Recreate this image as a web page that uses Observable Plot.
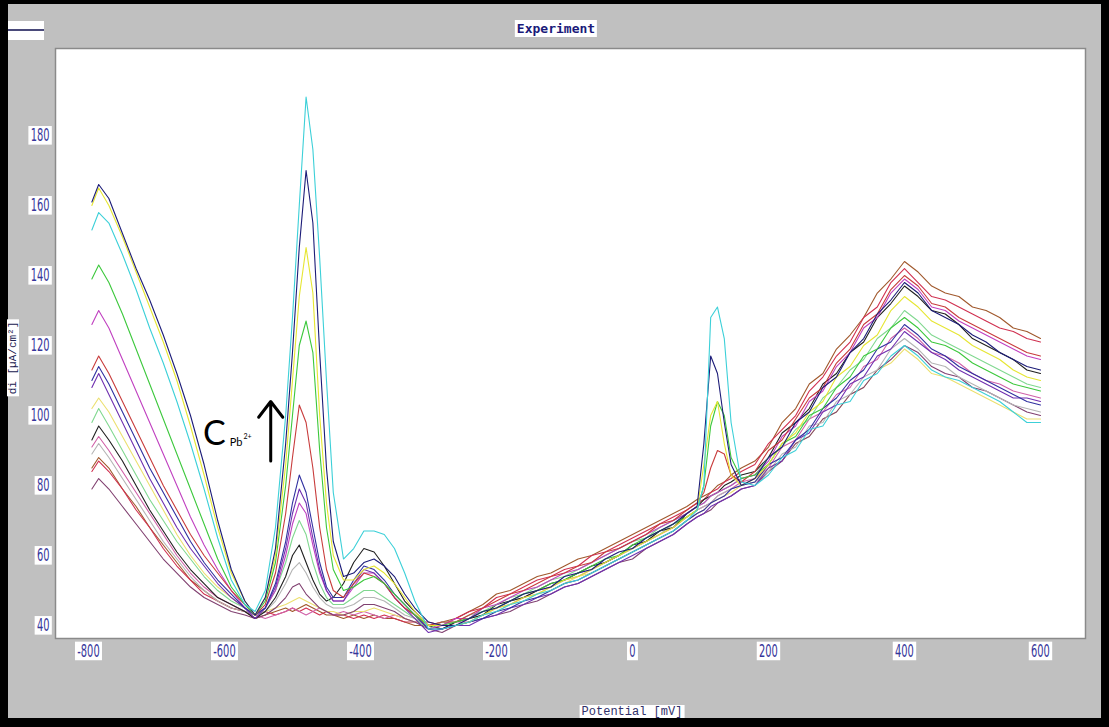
<!DOCTYPE html>
<html>
<head>
<meta charset="utf-8">
<script src="https://cdn.jsdelivr.net/npm/d3@7"></script>
<script src="https://cdn.jsdelivr.net/npm/@observablehq/plot@0.6"></script>
<style>
html,body{margin:0;padding:0;background:#000;}
#page{position:relative;width:1109px;height:727px;background:#000;overflow:hidden;}
#panel{position:absolute;left:8px;top:4px;width:1093px;height:714px;background:#c0c0c0;}
#chart{position:absolute;left:0;top:0;}
.lbl{position:absolute;background:#fff;white-space:nowrap;}
#legendbox{left:8px;top:21px;width:36px;height:19px;}
#legendline{position:absolute;left:0;top:8px;width:36px;height:2px;background:#4a4a7a;}
#title{left:556px;top:20px;transform:translateX(-50%);font:bold 13px "DejaVu Sans Mono",monospace;color:#1a1a7a;padding:1px 2px;}
#ylabel{left:13px;top:358px;transform:translate(-50%,-50%) rotate(-90deg);font:11px "Liberation Mono","DejaVu Sans Mono",monospace;color:#202050;padding:0 2px;}
#xlabel{left:632px;top:705px;transform:translateX(-50%);font:12px "Liberation Mono","DejaVu Sans Mono",monospace;color:#30306a;padding:0 2px;}
#bottomband{position:absolute;left:0;top:718px;width:1109px;height:9px;background:#000;}
#rightband{position:absolute;left:1101px;top:0;width:8px;height:727px;background:#000;}
</style>
</head>
<body>
<div id="page">
  <div id="panel"></div>
  <div id="chart"></div>
  <div class="lbl" id="legendbox"><div id="legendline"></div></div>
  <div class="lbl" id="title">Experiment</div>
  <div class="lbl" id="ylabel">di [µA/cm²]</div>
  <div class="lbl" id="xlabel">Potential [mV]</div>
  <div id="bottomband"></div>
  <div id="rightband"></div>
</div>
<script>
// ---- data ----
const potentials = [-795,-785,-770,-750,-730,-710,-690,-670,-650,-630,-610,-590,-570,
  -555,-540,-525,-510,-500,-490,-480,-470,-460,-450,-440,
  -425,-410,-395,-380,-365,-350,-335,-320,
  -300,-280,-260,-240,-220,-200,-180,-160,-140,-120,-100,-80,-60,-40,-20,0,20,40,60,80,
  95,105,115,125,135,145,160,
  180,200,220,240,260,280,300,320,340,360,380,400,420,440,460,480,500,520,540,560,580,600];

const xTicks = [-800,-600,-400,-200,0,200,400,600];
const yTicks = [40,60,80,100,120,140,160,180];

const brown = [85,88,85,79,74,68,63,58,53,50,47,45,44,
  42,43,44,45,44,45,46,45,44,43,43,
  42,43,42,43,42,42,41,40,
  40,41,42,44,46,49,50,52,54,55,57,59,60,62,64,66,68,70,72,74,
  76,77,78,80,81,83,85,
  87,91,98,102,109,112,119,123,128,135,139,144,141,137,135,134,131,130,128,125,124,122];
const red2 = [84,87,84,79,73,68,62,57,53,49,47,45,44,
  43,44,43,44,45,44,45,44,43,44,43,
  43,42,43,42,43,42,41,41,
  41,40,42,44,45,48,49,51,53,54,56,57,60,61,63,65,67,69,71,73,
  75,76,78,79,81,82,84,
  86,92,96,100,107,111,117,121,128,131,138,142,138,134,133,131,129,127,125,124,122,121];
const pink = [91,94,90,84,78,72,66,60,55,51,48,46,44,
  43,42,43,44,45,44,43,44,45,44,43,
  44,43,44,43,42,43,42,41,
  40,39,41,41,43,45,46,48,50,51,53,54,56,58,60,62,64,66,68,71,
  73,74,75,77,78,79,81,
  82,85,91,93,99,101,106,108,114,116,122,125,122,118,117,115,112,110,109,107,106,105];
const yellow2 = [102,105,101,94,87,80,73,66,60,55,51,48,45,
  43,44,45,46,47,48,47,46,45,44,44,
  43,44,44,45,44,43,42,41,
  40,39,40,41,43,44,46,47,49,50,52,54,55,57,59,61,63,65,67,70,
  72,73,75,76,77,78,80,
  81,85,87,92,94,99,101,106,108,113,115,119,116,112,111,109,107,105,103,101,99,99];
const darkPurple = [79,82,79,74,69,64,59,55,51,48,46,44,43,
  42,43,45,48,51,52,49,47,45,44,43,
  43,44,46,46,45,44,42,41,
  39,38,40,41,42,43,44,46,47,49,51,52,54,56,58,59,62,64,66,69,
  71,72,73,75,76,77,79,
  80,84,87,92,94,99,101,106,108,113,116,120,118,114,112,111,108,107,105,103,101,100];
const gray = [89,92,88,82,76,70,64,59,54,50,47,45,44,
  43,44,47,52,56,58,55,51,48,46,45,
  45,46,48,48,47,45,43,42,
  40,41,40,42,43,45,47,48,49,51,53,55,56,58,60,62,64,66,69,71,
  73,74,75,77,78,79,80,
  81,84,89,91,97,98,104,106,111,113,119,122,119,115,114,111,109,107,105,103,102,101];
const black = [93,97,93,87,80,73,67,61,56,52,48,46,44,
  42,44,48,54,60,63,58,53,49,47,48,
  52,58,62,61,57,52,47,44,
  40,39,41,42,43,46,47,48,50,52,53,55,57,58,60,63,64,67,68,72,
  74,76,77,78,80,81,83,
  84,88,95,98,102,109,112,118,121,128,132,137,134,130,129,126,122,120,118,116,113,112];
const green2 = [98,102,97,90,83,76,70,64,59,54,50,47,45,
  43,45,50,58,65,70,66,58,52,48,46,
  46,48,50,50,48,46,44,42,
  39,41,41,43,44,46,48,49,51,53,54,56,58,60,62,64,65,68,70,72,
  74,75,77,78,79,80,82,
  83,88,91,96,99,105,108,113,116,122,125,130,127,123,121,119,117,115,113,111,109,108];
const magenta = [126,130,125,116,107,98,89,80,71,63,56,50,45,
  43,45,50,60,69,75,72,63,55,50,47,
  47,51,55,55,52,48,45,43,
  39,40,42,42,45,46,48,50,51,53,55,56,58,60,62,64,66,68,70,72,
  74,75,77,78,79,80,82,
  83,87,94,97,104,107,114,118,125,128,135,139,136,131,130,127,125,123,121,119,117,116];
const violet = [108,112,106,98,90,82,75,68,62,57,52,48,45,
  42,45,51,62,72,79,75,65,56,50,47,
  47,52,56,55,52,48,45,42,
  38,39,40,40,42,43,45,46,48,49,51,52,54,56,58,60,62,64,66,69,
  71,72,74,75,76,77,79,
  80,85,87,93,95,101,103,109,111,117,119,124,121,118,116,113,111,109,107,105,105,104];
const navy2 = [110,114,109,101,93,85,78,71,64,58,53,49,45,
  43,45,52,64,75,83,78,68,58,51,48,
  48,53,57,56,53,49,46,43,
  39,39,40,41,42,44,45,47,48,50,52,53,55,57,59,61,63,65,67,70,
  72,73,75,76,77,79,80,
  81,86,88,93,96,102,105,110,113,119,121,126,123,119,117,114,112,110,108,106,104,103];
const red = [113,117,112,104,96,88,80,73,66,60,55,50,46,
  43,46,55,72,88,103,98,85,68,56,50,
  48,52,55,54,52,48,45,43,
  40,41,41,43,45,47,49,50,52,54,55,57,58,61,62,64,66,69,70,73,
  75,78,85,90,89,83,81,
  84,90,93,99,105,108,115,119,126,129,136,140,137,132,131,128,126,124,122,120,118,117];
const green = [139,143,138,129,119,109,99,89,79,69,59,51,46,
  43,47,58,80,100,120,127,118,90,68,56,
  50,51,53,54,52,49,46,43,
  40,40,41,42,44,45,47,49,50,52,53,55,57,59,60,63,65,67,69,71,
  73,80,97,104,100,88,82,
  83,86,92,94,100,102,108,111,117,119,125,128,125,121,120,118,115,113,111,109,108,107];
const yellow = [160,165,160,151,141,131,121,110,97,83,68,55,47,
  43,48,60,86,110,134,148,135,100,75,60,
  53,53,56,57,55,52,48,44,
  40,40,40,41,43,45,46,48,49,51,53,54,56,58,60,62,64,66,68,71,
  73,86,100,104,92,83,80,
  82,86,92,95,101,104,111,114,120,123,130,134,131,127,125,123,120,118,116,113,111,110];
const navy = [161,166,162,152,142,133,123,112,100,86,70,56,47,
  43,48,62,92,118,148,170,155,118,85,64,
  54,55,58,59,57,54,49,45,
  41,40,40,42,44,45,47,49,50,51,54,55,56,59,61,62,65,67,69,72,
  74,92,117,112,98,86,80,
  82,88,91,98,101,108,111,118,122,129,133,138,135,130,128,126,123,121,118,116,114,113];
const cyan = [153,158,155,146,136,125,115,104,92,79,65,53,46,
  44,50,68,100,128,160,191,176,145,110,78,
  59,62,67,67,66,62,55,47,
  39,39,40,41,43,44,46,47,49,50,52,53,55,57,59,61,63,65,67,70,
  73,80,128,131,122,98,81,
  80,83,88,90,96,97,103,104,110,112,117,120,117,113,111,110,108,106,104,101,98,98];

const seriesNames = ["brown","red2","pink","yellow2","darkPurple","gray","black","green2",
  "magenta","violet","navy2","red","green","yellow","navy","cyan"];
const seriesValues = [brown,red2,pink,yellow2,darkPurple,gray,black,green2,
  magenta,violet,navy2,red,green,yellow,navy,cyan];
const seriesColors = ["#a0582c","#d03050","#d060a8","#ece070","#804070","#b4b4b4","#202020","#80d890",
  "#c040c0","#7030b0","#3030a0","#c83c3c","#3cc83c","#e6e632","#1c1c78","#3cd0d8"];

// annotation "C Pb2+" with upward arrow
const noteArrow = [{x1: -532, y1: 87, x2: -532, y2: 104}];
const noteText = [
  {x: -615, y: 94.6, text: "C", size: 34, weight: "normal"},
  {x: -583, y: 92.3, text: "Pb", size: 11, weight: "bold"},
  {x: -566, y: 93.8, text: "2+", size: 7, weight: "normal"}
];

// ---- build ----
const rows = seriesValues.flatMap((vals, i) =>
  vals.map((v, j) => ({x: potentials[j], y: v, s: seriesNames[i]})));

const tickFont = '"DejaVu Sans", sans-serif';

const chart = Plot.plot({
  width: 1109,
  height: 727,
  marginLeft: 55,
  marginRight: 24,
  marginTop: 48,
  marginBottom: 89,
  style: {background: "transparent", overflow: "visible"},
  x: {domain: [-848.5, 666.2], axis: null},
  y: {domain: [36.29, 204.86], axis: null},
  color: {domain: seriesNames, range: seriesColors},
  marks: [
    Plot.frame({fill: "white"}),
    Plot.frame({stroke: "#8a8a8a", strokeWidth: 1.5}),
    Plot.line(rows, {x: "x", y: "y", z: "s", stroke: "s", strokeWidth: 1.1}),
    Plot.axisX(xTicks, {anchor: "bottom", tickSize: 0, tickPadding: 6, label: null,
      tickFormat: (d) => String(d), fontSize: 17, fontFamily: tickFont, color: "#35359a"}),
    Plot.axisY(yTicks, {anchor: "left", tickSize: 0, tickPadding: 6, label: null,
      tickFormat: (d) => String(d), fontSize: 17, fontFamily: tickFont, color: "#35359a"}),
    Plot.arrow(noteArrow, {x1: "x1", y1: "y1", x2: "x2", y2: "y2",
      stroke: "black", strokeWidth: 3, headLength: 18, headAngle: 75}),
    Plot.text(noteText, {x: "x", y: "y", text: "text", fontSize: (d) => d.size,
      fontWeight: (d) => d.weight,
      fontFamily: "Lato, 'Open Sans', sans-serif", fill: "black"})
  ]
});
document.getElementById("chart").appendChild(chart);

// condensed tick labels with white boxes behind
const NS = "http://www.w3.org/2000/svg";
chart.querySelectorAll('g[aria-label="x-axis tick label"] text, g[aria-label="y-axis tick label"] text')
  .forEach((t) => {
    const tr = (t.getAttribute("transform") || "") + " scale(0.58,1)";
    t.setAttribute("transform", tr);
    const b = t.getBBox();
    const r = document.createElementNS(NS, "rect");
    r.setAttribute("x", b.x - 4);
    r.setAttribute("y", b.y + 1);
    r.setAttribute("width", b.width + 8);
    r.setAttribute("height", b.height - 1);
    r.setAttribute("fill", "white");
    r.setAttribute("stroke", "none");
    r.setAttribute("transform", tr);
    t.parentNode.insertBefore(r, t);
  });
</script>
</body>
</html>
